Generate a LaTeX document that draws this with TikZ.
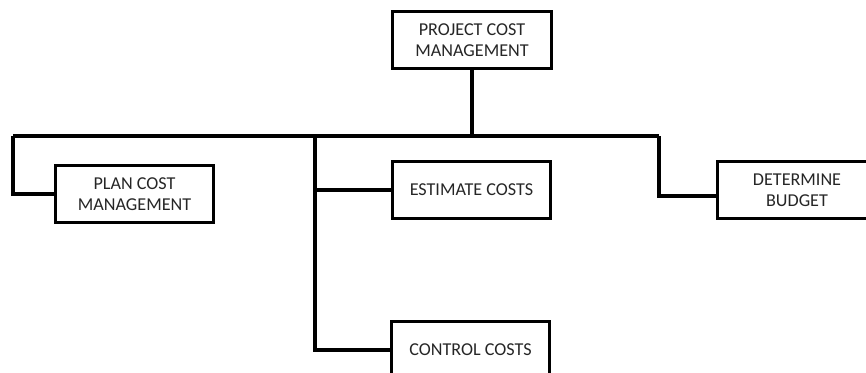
\documentclass[tikz,border=0pt]{standalone}
\usepackage{fontspec}
\setmainfont{Carlito}
\usepackage{tikz}

\begin{document}
\begin{tikzpicture}[x=0.75pt,y=-0.75pt,
		box/.style={draw, line width=2.3pt, fill=white, minimum width=119pt, minimum height=43pt, align=center, font=\fontsize{13.6}{16}\selectfont, text=black!85, inner sep=0pt},
		link/.style={line width=2.7pt}]
		\clip (0,0) rectangle (866,372);
		
		\node[box] (pcm) at (472,40) {PROJECT COST\\MANAGEMENT};
		\node[box] (plan) at (134.5,194) {PLAN COST\\MANAGEMENT};
		\node[box] (est) at (471.5,190) {ESTIMATE COSTS};
		\node[box] (det) at (797,190) {DETERMINE\\BUDGET};
		\node[box] (ctrl) at (470.5,350) {CONTROL COSTS};
		
		\coordinate (busL) at (13,136);
		\coordinate (busM) at (315,136);
		\coordinate (busR) at (659,136);
		
		\draw[link] (pcm.south) -- (pcm.south |- busL);
		\draw[link] (busL) -- (busR);
		\draw[link] (busL) |- (plan.west);
		\draw[link] (busM) |- (ctrl.west);
		\draw[link] (busM |- est.west) -- (est.west);
		\draw[link] (busR) |- ([yshift=-4.5pt]det.west);
	\end{tikzpicture}
\end{document}
